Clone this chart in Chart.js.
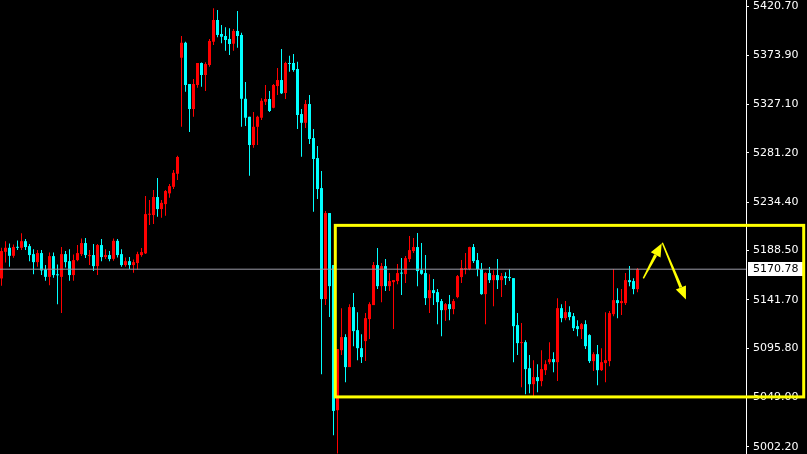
<!DOCTYPE html>
<html>
<head>
<meta charset="utf-8">
<script src="https://cdn.jsdelivr.net/npm/chart.js@4.4.1/dist/chart.umd.min.js"></script>
<style>
  html, body { margin: 0; padding: 0; background: #000; }
  #wrap { width: 807px; height: 454px; }
</style>
</head>
<body>
<div id="wrap"><canvas id="c" width="807" height="454"></canvas></div>
<script>
// ---- data ----
const opens = [
5162.0,5187.3,5191.1,5183.5,5191.8,5191.1,5197.4,5192.7,5185.1,5177.5,
5186.1,5170.6,5163.5,5183.2,5165.6,5163.5,5185.1,5178.4,5165.2,5179.4,
5185.1,5195.6,5183.2,5184.2,5173.7,5193.7,5182.3,5184.2,5180.6,5197.7,
5185.1,5174.7,5178.4,5174.7,5176.6,5184.2,5185.8,5222.5,5222.2,5239.3,
5227.9,5232.6,5242.8,5249.0,5261.4,5371.6,5385.8,5346.6,5322.9,5345.7,
5366.6,5355.2,5364.7,5386.8,5407.4,5394.1,5392.2,5389.4,5384.9,5397.0,
5393.2,5332.6,5315.5,5288.7,5306.0,5314.6,5329.8,5332.4,5324.1,5344.7,
5350.4,5338.1,5366.6,5366.6,5360.9,5318.1,5309.8,5327.6,5295.3,5276.3,
5247.8,5142.4,5224.1,5174.7,5036.9,5093.9,5106.3,5077.8,5134.8,5112.9,
5095.8,5102.5,5123.4,5136.7,5174.7,5154.7,5173.7,5154.7,5158.5,5159.5,
5167.3,5166.1,5180.4,5188.0,5191.8,5169.9,5167.1,5143.3,5150.9,5149.0,
5140.5,5131.9,5137.6,5132.9,5144.3,5163.3,5170.9,5170.9,5191.8,5179.4,
5170.9,5147.1,5167.1,5160.4,5165.2,5160.4,5164.2,5163.3,5162.3,5117.7,
5100.6,5101.5,5076.8,5061.6,5068.3,5064.5,5074.9,5082.5,5085.4,5082.5,
5133.8,5124.3,5130.0,5126.2,5116.7,5113.9,5118.6,5108.2,5083.5,5090.1,
5074.9,5081.6,5083.5,5128.1,5141.4,5138.6,5138.6,5160.4,5159.5,5151.9
];
const highs = [
5191.1,5197.4,5195.3,5194.3,5198.1,5204.8,5199.4,5194.6,5189.8,5188.9,
5188.9,5174.7,5186.7,5186.7,5175.3,5191.8,5188.0,5189.8,5184.8,5193.7,
5200.0,5200.3,5188.9,5194.6,5194.6,5199.4,5189.8,5188.0,5200.0,5199.4,
5189.8,5182.0,5182.3,5180.1,5187.3,5190.8,5240.2,5236.4,5245.9,5257.3,
5236.4,5245.9,5251.6,5264.9,5278.5,5392.2,5386.8,5346.6,5351.4,5366.6,
5367.0,5367.2,5389.4,5418.5,5416.9,5402.7,5400.5,5399.5,5398.9,5416.0,
5395.3,5348.5,5315.5,5320.0,5316.5,5333.0,5345.7,5340.0,5346.6,5361.8,
5379.9,5367.8,5373.5,5375.1,5367.8,5322.9,5331.4,5336.2,5303.9,5287.7,
5264.0,5226.0,5224.1,5174.7,5094.9,5133.8,5109.1,5137.6,5148.1,5130.0,
5109.1,5129.1,5139.5,5177.5,5190.8,5176.6,5180.4,5167.1,5160.4,5175.6,
5181.3,5183.2,5202.2,5200.3,5205.1,5195.6,5184.2,5166.1,5161.4,5151.9,
5142.4,5138.6,5146.2,5142.4,5165.2,5179.4,5186.1,5192.0,5194.6,5186.1,
5176.6,5168.0,5172.8,5169.9,5180.4,5167.1,5168.0,5170.9,5162.3,5129.1,
5119.6,5103.4,5089.2,5084.4,5080.6,5093.9,5084.4,5101.5,5092.0,5143.3,
5137.6,5140.5,5135.7,5129.1,5122.4,5119.6,5122.4,5109.1,5092.0,5098.7,
5095.8,5130.0,5131.0,5170.9,5152.8,5151.9,5167.1,5173.7,5162.3,5172.0
];
const lows = [
5155.0,5177.2,5173.0,5181.6,5188.9,5188.9,5188.9,5178.4,5166.1,5173.0,
5165.2,5159.7,5155.6,5162.6,5137.6,5129.3,5172.5,5159.7,5159.7,5178.4,
5183.2,5181.3,5174.7,5169.0,5165.2,5178.4,5180.4,5178.4,5178.7,5182.0,
5173.0,5173.0,5170.9,5167.3,5170.6,5182.5,5185.1,5212.7,5213.6,5220.5,
5219.6,5221.5,5238.6,5246.9,5255.4,5306.0,5339.3,5301.0,5315.5,5343.1,
5344.0,5340.0,5363.0,5383.7,5391.0,5385.3,5378.2,5374.2,5378.2,5381.1,
5306.0,5306.7,5259.5,5286.1,5288.7,5312.4,5326.7,5320.0,5323.5,5336.2,
5337.1,5332.4,5358.3,5358.3,5303.9,5277.6,5304.8,5289.6,5225.3,5237.4,
5071.1,5136.7,5125.5,5013.2,4995.8,5089.2,5063.5,5077.8,5097.7,5084.4,
5081.6,5083.5,5104.4,5136.7,5151.9,5139.5,5150.0,5150.0,5113.9,5156.6,
5146.2,5157.6,5177.5,5186.1,5154.7,5165.6,5136.7,5129.1,5136.7,5118.6,
5107.2,5121.5,5122.4,5128.1,5143.3,5157.6,5166.1,5169.9,5176.6,5164.2,
5146.6,5118.6,5157.6,5135.7,5151.9,5144.3,5155.7,5159.5,5082.5,5089.2,
5058.8,5052.1,5053.1,5050.2,5054.0,5059.7,5070.2,5080.6,5073.0,5064.5,
5120.5,5122.4,5122.4,5112.0,5107.2,5104.4,5094.9,5081.6,5074.0,5060.7,
5074.0,5063.5,5078.7,5126.2,5124.3,5127.2,5136.7,5154.7,5147.1,5149.0
];
const closes = [
5188.0,5191.1,5183.5,5191.8,5191.1,5197.4,5191.8,5184.2,5177.5,5186.1,
5169.6,5163.5,5183.2,5165.2,5165.0,5185.1,5177.5,5165.2,5179.4,5186.1,
5195.6,5184.2,5183.9,5173.7,5193.7,5182.3,5184.2,5180.4,5197.7,5184.2,
5174.7,5178.4,5174.7,5177.5,5185.1,5187.0,5223.1,5223.1,5239.3,5227.9,
5233.8,5245.0,5249.7,5262.3,5277.3,5385.8,5345.7,5322.9,5346.6,5366.6,
5355.2,5365.6,5387.5,5407.4,5393.2,5391.5,5388.4,5384.6,5397.0,5392.2,
5332.6,5314.6,5288.7,5306.0,5315.5,5330.7,5332.4,5321.0,5345.7,5350.4,
5337.8,5366.6,5365.6,5359.9,5317.2,5309.8,5327.6,5294.4,5275.4,5246.9,
5142.4,5224.1,5154.7,5036.2,5094.9,5106.3,5077.8,5134.8,5112.0,5095.8,
5087.3,5124.3,5137.6,5174.7,5154.7,5173.7,5154.7,5159.5,5160.4,5167.1,
5166.6,5181.3,5188.9,5191.8,5169.0,5166.4,5143.3,5150.9,5148.1,5139.5,
5131.9,5137.6,5132.9,5140.5,5164.2,5171.8,5171.8,5191.8,5178.5,5170.9,
5147.1,5167.1,5160.4,5165.2,5160.4,5164.2,5162.3,5162.3,5116.7,5100.6,
5101.5,5075.9,5061.6,5068.3,5064.5,5075.9,5080.6,5085.4,5082.5,5133.8,
5124.3,5130.0,5125.3,5114.8,5113.9,5118.6,5097.7,5083.5,5090.1,5074.9,
5082.5,5084.4,5129.1,5141.4,5138.6,5140.5,5160.4,5158.5,5151.9,5170.78
];
const tickLabels = ['5420.70','5373.90','5327.10','5281.20','5234.40','5188.50','5141.70','5095.80','5049.00','5002.20'];
const lastPrice = 5170.78;
// annotation: range box [x from, x to] in bar index, [price top, price bottom]
const boxBars = [83.45, 200.55];
const boxPrices = [5212.4, 5049.5];
// arrows: [x bar index, price] start -> end
const arrowUp = [[160.45, 5162.0], [165.05, 5195.3]];
const arrowDown = [[165.2, 5195.8], [171.1, 5142.0]];

// ---- chart ----
const UP = '#ff0000', DOWN = '#00ffff';
const candleColor = (ctx) => {
  const i = ctx.dataIndex;
  return closes[i] >= opens[i] ? UP : DOWN;
};
const wickData = highs.map((h, i) => ({ x: i, y: [lows[i], h] }));
const bodyData = opens.map((o, i) => ({ x: i, y: [o, closes[i]] }));

function drawArrow(ctx, x1, y1, x2, y2) {
  const ang = Math.atan2(y2 - y1, x2 - x1);
  const hl = 13, hw = 5.5;
  const bx = x2 - hl * Math.cos(ang), by = y2 - hl * Math.sin(ang);
  // shaft widening toward the head
  const nx = -Math.sin(ang), ny = Math.cos(ang);
  ctx.beginPath();
  ctx.moveTo(x1 + nx * 0.7, y1 + ny * 0.7);
  ctx.lineTo(bx + nx * 1.6, by + ny * 1.6);
  ctx.lineTo(bx - nx * 1.6, by - ny * 1.6);
  ctx.lineTo(x1 - nx * 0.7, y1 - ny * 0.7);
  ctx.closePath();
  ctx.fill();
  ctx.beginPath();
  ctx.moveTo(x2, y2);
  ctx.lineTo(bx + hw * nx, by + hw * ny);
  ctx.lineTo(bx - hw * nx, by - hw * ny);
  ctx.closePath();
  ctx.fill();
}

const overlay = {
  id: 'overlay',
  afterDraw(chart) {
    const ctx = chart.ctx;
    const xs = chart.scales.x, ys = chart.scales.y;
    ctx.save();
    // last price label
    const py = Math.round(ys.getPixelForValue(lastPrice));
    ctx.fillStyle = '#ffffff';
    ctx.fillRect(748, py - 7, 55, 14);
    ctx.fillStyle = '#000000';
    ctx.font = '11px "DejaVu Sans"';
    ctx.textBaseline = 'middle';
    ctx.textAlign = 'left';
    ctx.fillText(lastPrice.toFixed(2), 753, py + 0.5);
    // yellow range box
    ctx.strokeStyle = '#ffff00';
    ctx.fillStyle = '#ffff00';
    ctx.lineWidth = 3;
    const bx1 = xs.getPixelForValue(boxBars[0]), bx2 = xs.getPixelForValue(boxBars[1]);
    const by1 = ys.getPixelForValue(boxPrices[0]), by2 = ys.getPixelForValue(boxPrices[1]);
    ctx.strokeRect(bx1, by1, bx2 - bx1, by2 - by1);
    // arrows
    [arrowUp, arrowDown].forEach(a => {
      drawArrow(ctx,
        xs.getPixelForValue(a[0][0]), ys.getPixelForValue(a[0][1]),
        xs.getPixelForValue(a[1][0]), ys.getPixelForValue(a[1][1]));
    });
    ctx.restore();
  }
};

new Chart(document.getElementById('c'), {
  type: 'bar',
  data: {
    datasets: [
      {
        type: 'line',
        data: [{ x: -0.375, y: lastPrice }, { x: 186.125, y: lastPrice }],
        borderColor: '#9c9ca8',
        borderWidth: 1,
        pointRadius: 0,
        order: 0
      },
      {
        data: wickData,
        backgroundColor: candleColor,
        barThickness: 1,
        borderWidth: 0,
        inflateAmount: 0,
        grouped: false,
        order: 2
      },
      {
        data: bodyData,
        backgroundColor: candleColor,
        barThickness: 3,
        minBarLength: 1,
        borderWidth: 0,
        inflateAmount: 0,
        grouped: false,
        order: 1
      }
    ]
  },
  options: {
    responsive: false,
    animation: false,
    events: [],
    layout: { padding: 0 },
    plugins: { legend: { display: false }, tooltip: { enabled: false } },
    scales: {
      x: {
        type: 'linear',
        min: -0.375,
        max: 186.125,
        offset: false,
        display: false,
        grid: { display: false }
      },
      y: {
        position: 'right',
        min: 4995.3,
        max: 5426.4,
        border: { color: '#ffffff', width: 1 },
        grid: { drawOnChartArea: false, drawTicks: true, tickLength: 3, color: '#ffffff' },
        ticks: {
          color: '#ffffff',
          font: { family: 'DejaVu Sans', size: 11 },
          padding: 4,
          autoSkip: false,
          callback: (v) => Number(v).toFixed(2)
        },
        afterBuildTicks: (scale) => {
          scale.ticks = tickLabels.map(s => ({ value: parseFloat(s) }));
        },
        afterFit: (scale) => {
          scale.width = 61;
          scale.paddingTop = 0;
          scale.paddingBottom = 0;
        }
      }
    }
  },
  plugins: [overlay]
});
</script>
</body>
</html>
